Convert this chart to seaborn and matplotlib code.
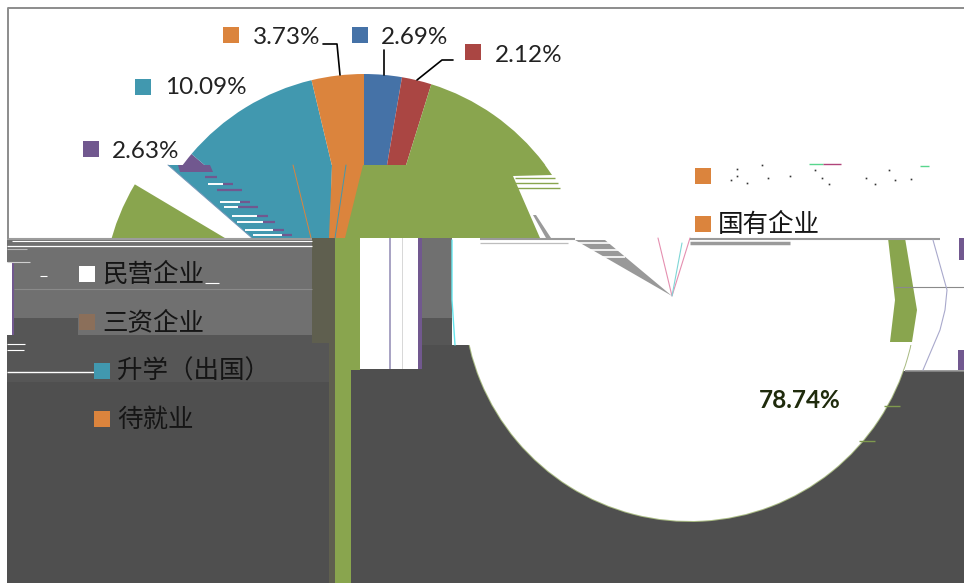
import matplotlib
matplotlib.use("Agg")
import matplotlib.pyplot as plt
from matplotlib.patches import Polygon, Rectangle
import pandas as pd
import seaborn as sns

W, H = 964, 583

# pie data, clockwise from twelve o'clock
shares = [2.69, 2.12, 78.74, 2.63, 10.09, 3.73]
pie_colors = ["#4572a7", "#aa4643", "#89a54e", "#71588f", "#4198af", "#db843d"]
legend_names = ["民营企业", "三资企业", "升学（出国）", "待就业", "国有企业"]
legend_colors = ["#ffffff", "#8b6f5a", "#4198af", "#db843d", "#db843d"]

# where things sit on the picture, in pixels from the top left
label_xy = [(381, 37), (495, 55), (759, 401), (112, 151), (165, 88), (253, 37)]
label_marker_xy = [(360, 35), (473, 52), None, (91, 149), (143, 87), (231, 35)]
legend_xy = [(102, 275), (102, 323), (117, 372), (117, 420), (718, 225)]
legend_marker_xy = [(87, 274), (87, 322), (102, 371), (102, 419), (703, 224)]

GREEN, PURPLE, TEAL, ORANGE = pie_colors[2], pie_colors[3], pie_colors[4], pie_colors[5]
DARK, MID, LIGHT = "#4f4f4f", "#565656", "#707070"
CJK = ["Noto Sans CJK SC", "DejaVu Sans"]


def py(y):
    return H - y


def rect(x0, y0, x1, y1, color):
    ax.add_patch(Rectangle((x0, py(y1)), x1 - x0, y1 - y0, fc=color, ec="none", lw=0))


def poly(points, color):
    ax.add_patch(Polygon([(x, py(y)) for x, y in points], fc=color, ec="none", lw=0))


def pie(center_x, center_y, colors, radius, x0, y0, x1, y1):
    wedges, _ = ax.pie(shares, colors=colors, startangle=90, counterclock=False,
                       center=(center_x, py(center_y)), radius=radius,
                       wedgeprops={"linewidth": 0, "edgecolor": "none"})
    for w in wedges:
        # pie turns clipping off on its wedges
        w.set_clip_on(True)
        w.set_clip_path(Rectangle((x0, py(y1)), x1 - x0, y1 - y0, transform=ax.transData))


def hline(y, x0, x1, color, lw=1.0):
    ax.plot([x0, x1], [py(y), py(y)], color=color, lw=lw, solid_capstyle="butt", zorder=2)


def path(points, color, lw=1.0):
    ax.plot([p[0] for p in points], [py(p[1]) for p in points], color=color, lw=lw, zorder=2)


sns.set_theme(style="white")
plt.rcParams["font.family"] = ["Lato", "DejaVu Sans"]

fig = plt.figure(figsize=(W / 100, H / 100), dpi=100, facecolor="white")
ax = fig.add_axes([0, 0, 1, 1])

# top part of the pie
pie(364, 300, pie_colors, 226, 0, 0, W, 165)

# broken rows below it
poly([(168, 165), (332, 165), (330, 238), (252, 238)], TEAL)
poly([(133, 183), (145, 165), (168, 165), (252, 238), (225, 238)], "white")
pie(329, 300, ["none", "none", GREEN, "none", "none", "none"], 226, 100, 183, 240, 238)
poly([(360, 165), (545, 165), (552, 175), (513, 176), (540, 238), (343, 238)], GREEN)
poly([(332, 165), (363, 165), (345, 238), (329, 238)], ORANGE)
path([(346, 165), (335, 238)], TEAL, 0.7)
path([(293, 165), (311, 238)], ORANGE, 0.7)
path([(168, 165), (252, 238)], "#6f93b5", 0.7)
poly([(178, 165), (210, 165), (213, 172), (180, 172)], PURPLE)
for y, x0, x1, x2 in [(177, 205, 205, 217), (184, 208, 223, 233),
                      (190, 217, 217, 242), (202, 220, 240, 250), (207, 224, 238, 258),
                      (216, 232, 257, 268), (222, 237, 263, 275), (230, 245, 273, 284),
                      (235, 253, 282, 292)]:
    hline(y, x0, x1, "white", 1.4)
    hline(y, x1, x2, PURPLE, 1.6)
for y, x1 in [(178, 555), (183, 558), (188, 560)]:
    hline(y, 515, x1, GREEN, 1.0)
poly([(533, 215), (536, 215), (551, 238), (546, 238)], "#9a9a9a")

# lower blocks
rect(7, 238, W, 583, DARK)
rect(7, 318, 330, 382, MID)
rect(7, 238, 312, 318, LIGHT)
rect(78, 318, 312, 335, LIGHT)
rect(7, 262, 12, 335, "white")
rect(12, 262, 14, 335, PURPLE)
rect(312, 238, 335, 343, "#5f5f4f")
rect(329, 343, 335, 583, "#5f5f4f")
rect(335, 238, 360, 370, GREEN)
rect(335, 370, 351, 583, GREEN)
rect(360, 238, 418, 369, "white")
rect(389, 238, 391, 369, "#a9a4c4")
rect(402, 238, 403, 369, "#d8d8d8")
rect(418, 238, 422, 369, PURPLE)
rect(422, 238, 452, 318, LIGHT)
rect(422, 318, 470, 345, MID)
rect(690, 238, 964, 371, "white")

# bottom pie, same shares in white with a green rim
pie(690, 295, ["#a9bb83"] * 6, 227, 440, 345, 930, 530)
pie(690, 295, ["white"] * 6, 226, 440, 238, 930, 530)
rect(452, 238, 690, 345, "white")
path([(452, 240), (452, 300), (455, 345)], "#66e6ee", 1.0)
poly([(888, 238), (905, 238), (917, 310), (912, 342), (890, 342), (895, 300)], GREEN)

# the grey sliver and the V at the old pie centre
poly([(575, 240), (605, 240), (672, 296)], "#999999")
for y in [243, 250, 257]:
    hline(y, 570, 625, "white", 1.2)
path([(658, 238), (672, 296), (690, 238)], "#e58fb0", 0.8)
path([(682, 243), (672, 296)], "#7fd6d6", 0.8)

# stray lines
hline(238.5, 7, 312, "#9c9c9c", 1.5)
hline(241, 12, 312, "white", 0.8)
hline(246, 7, 312, "white", 0.9)
hline(249, 7, 27, "#b8b8b8", 0.8)
hline(262, 7, 30, "#cfcfcf", 0.8)
hline(276, 40, 47, "white", 0.8)
hline(283, 205, 219, "white", 0.8)
hline(289, 14, 312, "#8a8a8a", 0.8)
hline(344, 7, 25, "white", 0.8)
hline(350, 7, 24, "white", 0.8)
hline(372, 7, 95, "white", 1.0)
hline(239, 480, 575, "#9a9a9a", 1.5)
hline(243, 480, 568, "#bdbdbd", 0.9)
hline(239, 690, 940, "#9a9a9a", 1.5)
hline(243, 690, 790, "#9a9a9a", 2.5)
hline(287, 895, W, "#8a8a8a", 0.8)
hline(371, 905, W, "#8a8a8a", 1.2)
hline(406, 884, 900, "#7f9a4e", 1.0)
hline(441, 859, 875, "#7f9a4e", 1.0)
path([(933, 240), (940, 265), (947, 290), (945, 310), (940, 330), (923, 370)], "#a9a9cc", 0.8)
rect(959, 238, 964, 260, PURPLE)
rect(958, 350, 964, 370, PURPLE)

# frame
hline(8, 8, W, "#8c8c8c", 1.4)
path([(8, 8), (8, 238)], "#8c8c8c", 1.4)

# leader lines
path([(323, 44), (337, 44), (340, 75)], "black", 1.2)
path([(384, 50), (384, 75)], "black", 1.2)
path([(453, 60), (442, 60), (417, 80)], "black", 1.2)

# data labels
for i, v in enumerate(shares):
    x, y = label_xy[i]
    if label_marker_xy[i] is None:
        ax.text(x, py(y), f"{v:.2f}%", fontsize=17.5, fontweight="bold", color="#1f2b0c",
                va="center", ha="left")
    else:
        ax.text(x, py(y), f"{v:.2f}%", fontsize=17.5, color="#222222", va="center", ha="left")

# legend text and the unreadable top entry
for name, (x, y) in zip(legend_names, legend_xy):
    ax.text(x, py(y), name, fontsize=18.4, family=CJK, fontweight="light", color="#151515",
            va="center", ha="left")
hline(164, 809, 823, "#58d68d", 1.0)
hline(164, 823, 841, "#b0447a", 1.0)
hline(166, 920, 929, "#58d68d", 1.0)
ax.plot([731, 737, 737, 747, 762, 768, 790, 815, 822, 829, 866, 875, 889, 895, 911],
        [py(y) for y in [180, 169, 176, 183, 165, 178, 176, 170, 178, 184, 178, 184, 170, 180, 179]],
        ls="none", marker="s", ms=1.2, color="#333333", mew=0, zorder=2)

# square markers
markers = pd.DataFrame(
    [(x, py(y), c) for (x, y), c in zip(legend_marker_xy, legend_colors)]
    + [(x_y[0], py(x_y[1]), c) for x_y, c in zip(label_marker_xy, pie_colors) if x_y]
    + [(703, py(176), ORANGE)],
    columns=["x", "y", "c"],
)
sns.scatterplot(data=markers, x="x", y="y", hue="c", palette={c: c for c in markers["c"].unique()},
                marker="s", s=122, linewidth=0, legend=False, ax=ax, zorder=5)

ax.set_xlim(0, W)
ax.set_ylim(0, H)
ax.set_axis_off()
fig.savefig("out.png", dpi=100, facecolor="white")
